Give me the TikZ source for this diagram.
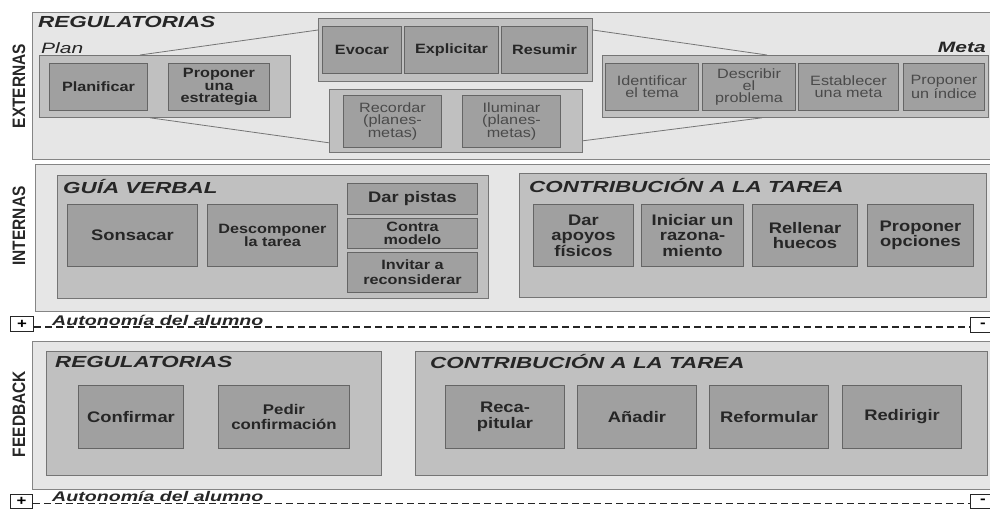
\documentclass[tikz,border=0pt]{standalone}
\usepackage{fontspec}
\setmainfont[FakeStretch=1.2]{Liberation Sans}
\newfontfamily\titlefont[FakeStretch=1.4]{Liberation Sans}
\newfontfamily\sidefont[FakeStretch=0.86]{Liberation Sans}
\definecolor{pagebg}{HTML}{E6E6E6}
\definecolor{pageline}{HTML}{858585}
\definecolor{groupbg}{HTML}{C0C0C0}
\definecolor{groupline}{HTML}{757575}
\definecolor{cellbg}{HTML}{A0A0A0}
\definecolor{cellline}{HTML}{656565}
\definecolor{ink}{HTML}{262626}
\definecolor{softink}{HTML}{4A4A4A}
\begin{document}
\begin{tikzpicture}[x=1pt,y=-1pt,
  outer/.style={draw=pageline, fill=pagebg, line width=0.8pt, inner sep=0pt, anchor=north west},
  group/.style={draw=groupline, fill=groupbg, line width=0.8pt, inner sep=0pt, anchor=north west},
  cell/.style={draw=cellline, fill=cellbg, line width=1pt, text=ink, align=center, inner sep=0pt, anchor=north west, font=\bfseries\fontsize{13.5}{12.5}\selectfont},
  bigcell/.style={cell, font=\bfseries\fontsize{15.3}{15.5}\selectfont},
  softcell/.style={cell, text=softink, font=\fontsize{13.5}{12.3}\selectfont},
  title/.style={anchor=west, inner sep=0pt, text=ink, font=\titlefont\bfseries\itshape\fontsize{16}{16}\selectfont},
  side/.style={rotate=90, inner sep=0pt, text=ink, font=\sidefont\bfseries\fontsize{18}{18}\selectfont},
  zoomline/.style={draw=groupline, line width=0.8pt},
  autoline/.style={draw=ink, line width=1.2pt, dash pattern=on 7pt off 4pt},
  signbox/.style={draw=ink, fill=white, line width=1pt, inner sep=0pt, anchor=north west, font=\bfseries\fontsize{14}{14}\selectfont}]
\useasboundingbox (0,0) rectangle (990,509);

% externas
\node[outer, minimum width=960, minimum height=147] (ext) at (32,12) {};
\node[side] (extlab) at (19,86) {EXTERNAS};
\node[title] (extreg) at (38,22) {REGULATORIAS};
\node[title, font=\titlefont\itshape\fontsize{15}{15}\selectfont] (plan) at (41,48) {Plan};
\node[title, anchor=east, font=\titlefont\bfseries\itshape\fontsize{15}{15}\selectfont] (meta) at (986,47) {Meta};

\node[group, minimum width=251, minimum height=62] (planbox) at (39,55) {};
\node[cell, minimum width=98, minimum height=47] (planificar) at (49,63) {Planificar};
\node[cell, minimum width=101, minimum height=47] (estrategia) at (168,63) {Proponer\\una\\estrategia};

\node[group, minimum width=274, minimum height=63] (evocbox) at (318,18) {};
\node[cell, minimum width=79, minimum height=47] (evocar) at (322,26) {Evocar};
\node[cell, minimum width=94, minimum height=47] (explicitar) at (404,26) {Explicitar};
\node[cell, minimum width=86, minimum height=47] (resumir) at (501,26) {Resumir};

\node[group, minimum width=253, minimum height=63] (recbox) at (329,89) {};
\node[softcell, minimum width=98, minimum height=52] (recordar) at (343,95) {Recordar\\(planes-\\metas)};
\node[softcell, minimum width=98, minimum height=52] (iluminar) at (462,95) {Iluminar\\(planes-\\metas)};

\node[group, minimum width=386, minimum height=62] (metabox) at (602,55) {};
\node[softcell, minimum width=93, minimum height=47] (tema) at (605,63) {Identificar\\el tema};
\node[softcell, minimum width=93, minimum height=47] (problema) at (702,63) {Describir\\el\\problema};
\node[softcell, minimum width=100, minimum height=47] (establecer) at (798,63) {Establecer\\una meta};
\node[softcell, minimum width=81, minimum height=47] (indice) at (903,63) {Proponer\\un índice};

\coordinate (plantop) at ([xshift=101pt]planbox.north west);
\coordinate (planbot) at ([xshift=111pt]planbox.south west);
\coordinate (metatop) at ([xshift=165pt]metabox.north west);
\coordinate (metabot) at ([xshift=160pt]metabox.south west);
\draw[zoomline] (plantop) -- ([yshift=-12pt]evocbox.north west);
\draw[zoomline] (planbot) -- ([yshift=10pt]recbox.south west);
\draw[zoomline] ([yshift=-12pt]evocbox.north east) -- (metatop);
\draw[zoomline] ([yshift=12pt]recbox.south east) -- (metabot);

% internas
\node[outer, minimum width=957, minimum height=147] (int) at (35,164) {};
\node[side] (intlab) at (19,226) {INTERNAS};

\node[group, minimum width=431, minimum height=123] (guiabox) at (57,175) {};
\node[title] (guia) at (63,187) {GUÍA VERBAL};
\node[bigcell, minimum width=130, minimum height=62] (sonsacar) at (67,204) {Sonsacar};
\node[cell, minimum width=130, minimum height=62] (descomponer) at (207,204) {Descomponer\\la tarea};
\node[bigcell, minimum width=130, minimum height=31] (pistas) at (347,183) {Dar pistas};
\node[cell, minimum width=130, minimum height=30] (contra) at (347,218) {Contra\\modelo};
\node[cell, minimum width=130, minimum height=40, font=\bfseries\fontsize{13.5}{15}\selectfont] (invitar) at (347,252) {Invitar a\\reconsiderar};

\node[group, minimum width=467, minimum height=124] (intcontrib) at (519,173) {};
\node[title] (intcontriblab) at (529,186) {CONTRIBUCIÓN A LA TAREA};
\node[bigcell, minimum width=100, minimum height=62] (apoyos) at (533,204) {Dar\\apoyos\\físicos};
\node[bigcell, minimum width=102, minimum height=62] (iniciar) at (641,204) {Iniciar un\\razona-\\miento};
\node[bigcell, minimum width=105, minimum height=62] (rellenar) at (752,204) {Rellenar\\huecos};
\node[bigcell, minimum width=106, minimum height=62] (opciones) at (867,204) {Proponer\\opciones};

\node[signbox, minimum width=23, minimum height=15] (plusa) at (10,316) {+};
\node[signbox, minimum width=25, minimum height=15] (minusa) at (970,317) {-};
\node[title, font=\titlefont\bfseries\itshape\fontsize{14}{14}\selectfont] (autoa) at (52,320) {Autonomía del alumno};
\draw[autoline] ([yshift=-3pt]plusa.east) -- ([yshift=-3pt]plusa.east -| minusa.west);

% feedback
\node[outer, minimum width=960, minimum height=148] (feed) at (32,341) {};
\node[side] (feedlab) at (19,414) {FEEDBACK};

\node[group, minimum width=335, minimum height=124] (feedreg) at (46,351) {};
\node[title] (feedreglab) at (55,362) {REGULATORIAS};
\node[bigcell, minimum width=105, minimum height=63] (confirmar) at (78,385) {Confirmar};
\node[cell, minimum width=131, minimum height=63, font=\bfseries\fontsize{14}{15}\selectfont] (pedir) at (218,385) {Pedir\\confirmación};

\node[group, minimum width=572, minimum height=124] (feedcontrib) at (415,351) {};
\node[title] (feedcontriblab) at (430,362) {CONTRIBUCIÓN A LA TAREA};
\node[bigcell, minimum width=119, minimum height=63] (recap) at (445,385) {Reca-\\pitular};
\node[bigcell, minimum width=119, minimum height=63] (anadir) at (577,385) {Añadir};
\node[bigcell, minimum width=119, minimum height=63] (reformular) at (709,385) {Reformular};
\node[bigcell, minimum width=119, minimum height=63] (redirigir) at (842,385) {Redirigir};

\node[signbox, minimum width=22, minimum height=14] (plusb) at (10,494) {+};
\node[signbox, minimum width=25, minimum height=14] (minusb) at (970,494) {-};
\node[title, font=\titlefont\bfseries\itshape\fontsize{14}{14}\selectfont] (autob) at (52,496) {Autonomía del alumno};
\draw[autoline] ([yshift=-2pt]plusb.east) -- ([yshift=-2pt]plusb.east -| minusb.west);
\end{tikzpicture}
\end{document}
